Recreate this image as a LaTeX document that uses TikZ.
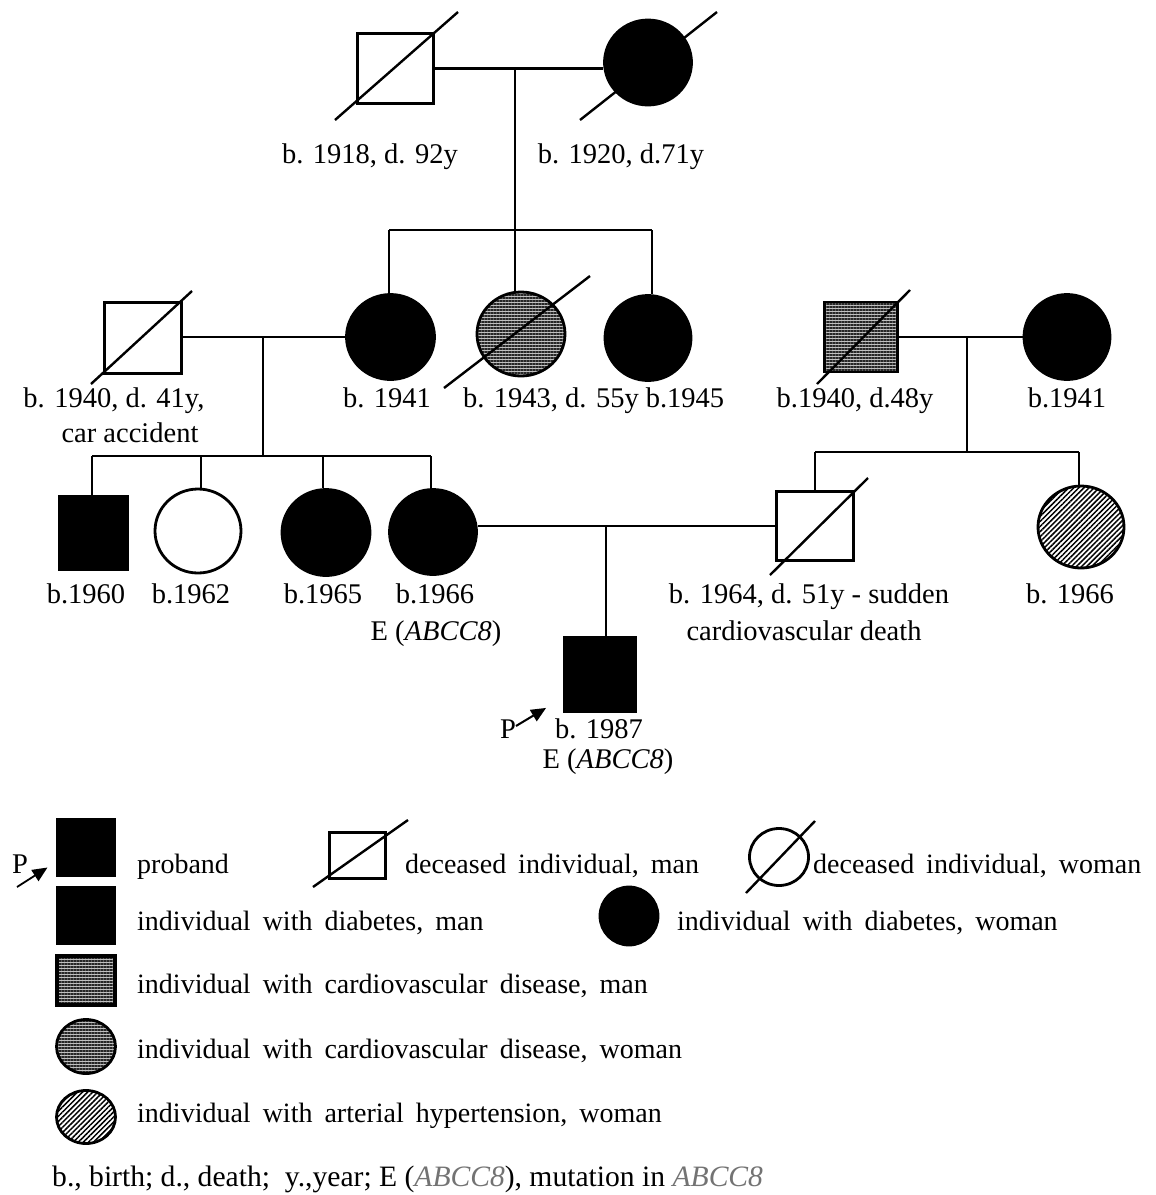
\documentclass[tikz,border=0pt]{standalone}
\usepackage{fontspec}
\setmainfont{Liberation Serif}
\usetikzlibrary{shapes.geometric,patterns.meta,arrows.meta,calc}
\newcommand\pedfont{\fontsize{28.5}{32}\selectfont}
\newcommand\legfont{\fontsize{28}{32}\selectfont\spaceskip=12pt plus 2pt minus 1pt\relax}
\newcommand\footfont{\fontsize{29.6}{32}\selectfont}
\begin{document}
\begin{tikzpicture}[x=1pt,y=-1pt,
  indiv/.style={draw, line width=2.8pt, inner sep=0pt},
  male/.style={indiv, rectangle},
  female/.style={indiv, ellipse},
  aff/.style={fill=black},
  cvd/.style={preaction={fill=gray!50}, pattern={Lines[angle=0,distance=3pt,line width=1.2pt]}, pattern color=gray!30!black},
  hyp/.style={fill=white, postaction={pattern={Lines[angle=45,distance=3.6pt,line width=1.5pt]}, pattern color=black}},
  link/.style={line width=2.8pt},
  decl/.style={line width=2.4pt},
  lab/.style={font=\pedfont, inner sep=0pt, anchor=base},
  leg/.style={font=\legfont, inner sep=0pt, anchor=base west},
  parrow/.style={line width=2pt, -{Triangle[length=15pt,width=13pt]}}
]
\fill[white] (0,0) rectangle (1156,1195);
\useasboundingbox (0,0) rectangle (1156,1195);

% ---------- Generation I
\node[male, minimum width=76pt, minimum height=70pt] (g1m) at (395.5,68.5) {};
\node[female, aff, minimum width=87pt, minimum height=85pt] (g1f) at (648,62.5) {};
\draw[decl] ($(g1m.center)+(-60.5,51.5)$) -- ($(g1m.center)+(62.5,-56.5)$);
\draw[decl] ($(g1f.center)+(-68,57.5)$) -- ($(g1f.center)+(69,-50.5)$);
\node[lab] (t1m) at (370,163) {b. 1918, d. 92y};
\node[lab] (t1f) at (621,163) {b. 1920, d.71y};

% ---------- Generation II
\node[male, minimum width=77pt, minimum height=71pt] (g2a) at (143,338) {};
\node[female, aff, minimum width=88pt, minimum height=85pt] (g2b) at (390.5,337) {};
\node[female, cvd, minimum width=88pt, minimum height=84pt] (g2c) at (521,334) {};
\node[female, aff, minimum width=86pt, minimum height=85pt] (g2d) at (648,338) {};
\node[male, cvd, minimum width=73pt, minimum height=70pt] (g2e) at (861,337) {};
\node[female, aff, minimum width=86pt, minimum height=85pt] (g2f) at (1067,337) {};
\draw[decl] ($(g2a.center)+(-52,46)$) -- ($(g2a.center)+(49,-47)$);
\draw[decl] ($(g2c.center)+(-77,54)$) -- ($(g2c.center)+(69,-58)$);
\draw[decl] ($(g2e.center)+(-44,47)$) -- ($(g2e.center)+(49,-47)$);
\node[lab] (t2a) at (114,407) {b. 1940, d. 41y,};
\node[lab] (t2a2) at (130,442) {car accident};
\node[lab] (t2b) at (387,407) {b. 1941};
\node[lab] (t2c) at (551,407) {b. 1943, d. 55y};
\node[lab] (t2d) at (685,407) {b.1945};
\node[lab] (t2e) at (855,407) {b.1940, d.48y};
\node[lab] (t2f) at (1067,407) {b.1941};

% ---------- Generation III
\node[male, aff, minimum width=68pt, minimum height=74pt] (g3a) at (93.5,533) {};
\node[female, fill=white, minimum width=86pt, minimum height=84pt] (g3b) at (198,531) {};
\node[female, aff, minimum width=88pt, minimum height=86pt] (g3c) at (326,532.5) {};
\node[female, aff, minimum width=87pt, minimum height=85pt] (g3d) at (433,532) {};
\node[male, fill=white, minimum width=77pt, minimum height=69pt] (g3e) at (815,526) {};
\node[female, hyp, minimum width=86pt, minimum height=82pt] (g3f) at (1081,527) {};
\draw[decl] ($(g3e.center)+(-45,49)$) -- ($(g3e.center)+(53,-48)$);
\node[lab] (t3a) at (86,603) {b.1960};
\node[lab] (t3b) at (191,603) {b.1962};
\node[lab] (t3c) at (323,603) {b.1965};
\node[lab] (t3d) at (435,603) {b.1966};
\node[lab] (t3d2) at (436,640) {E (\textit{ABCC8})};
\node[lab] (t3e) at (809,603) {b. 1964, d. 51y - sudden};
\node[lab] (t3e2) at (804,640) {cardiovascular death};
\node[lab] (t3f) at (1070,603) {b. 1966};

% ---------- Generation IV
\node[male, aff, minimum width=71pt, minimum height=74pt] (g4) at (600,674.5) {};
\node[lab] (tp) at (508,738) {P};
\node[lab] (t4) at (599,738) {b. 1987};
\node[lab] (t42) at (608,768) {E (\textit{ABCC8})};
\coordinate (pa) at (516,726);
\draw[parrow] (pa) -- ($(g4.south west)+(-17,-5)$);

% ---------- connectors
\coordinate (c1) at (515,68.5);
\coordinate (s1) at (515,230);
\coordinate (s1l) at (389,230);
\coordinate (s1r) at (652,230);
\draw[link] (g1m.east) -- (g1m.east -| g1f.west);
\draw[link] (c1) -- (s1);
\draw[link] (s1l) -- (s1r);
\draw[link] (s1l) -- (s1l |- g2b.north);
\draw[link] (s1) -- (s1 |- g2c.north);
\draw[link] (s1r) -- (s1r |- g2d.north);

\coordinate (c2) at (263,337);
\coordinate (s2) at (263,456);
\coordinate (s2l) at (92,456);
\coordinate (v3b) at (201,456);
\coordinate (v3c) at (323,456);
\coordinate (s2r) at (431,456);
\draw[link] (g2a.east |- g2b.west) -- (g2b.west);
\draw[link] (c2) -- (s2);
\draw[link] (s2l) -- (s2r);
\draw[link] (s2l) -- (s2l |- g3a.north);
\draw[link] (v3b) -- (v3b |- g3b.north);
\draw[link] (v3c) -- (v3c |- g3c.north);
\draw[link] (s2r) -- (s2r |- g3d.north);

\coordinate (c3) at (967,337);
\coordinate (s3) at (967,452);
\coordinate (s3l) at (815,452);
\coordinate (s3r) at (1079,452);
\draw[link] (g2e.east) -- (g2e.east -| g2f.west);
\draw[link] (c3) -- (s3);
\draw[link] (s3l) -- (s3r);
\draw[link] (s3l) -- (s3l |- g3e.north);
\draw[link] (s3r) -- (s3r |- g3f.north);

\coordinate (c4) at (606,526);
\draw[link] (g3d.east |- g3e.west) -- (g3e.west);
\draw[link] (c4) -- (c4 |- g4.north);

% ---------- Legend
\node[male, aff, line width=1pt, minimum width=59pt, minimum height=58pt] (lp) at (85.5,847) {};
\node[lab] (lpP) at (20,873) {P};
\coordinate (lpa) at (17,887);
\draw[parrow, line width=1.8pt] (lpa) -- ($(lp.south west)+(-8,-9)$);
\node[leg] (lpt) at (137,873) {proband};

\node[male, minimum width=56pt, minimum height=46pt] (ldm) at (357.5,855.5) {};
\draw[decl] ($(ldm.center)+(-44.5,31.5)$) -- ($(ldm.center)+(50.5,-35.5)$);
\node[leg] (ldmt) at (405,873) {deceased individual, man};

\node[female, minimum width=59pt, minimum height=57pt] (ldf) at (779,857) {};
\draw[decl] ($(ldf.center)+(-33,36)$) -- ($(ldf.center)+(36,-36)$);
\node[leg] (ldft) at (813,873) {deceased individual, woman};

\node[male, aff, line width=1pt, minimum width=59pt, minimum height=58pt] (lam) at (85.5,915) {};
\node[leg] (lamt) at (137,930) {individual with diabetes, man};
\node[female, aff, minimum width=58pt, minimum height=58pt] (laf) at (629,916) {};
\node[leg] (laft) at (677,930) {individual with diabetes, woman};

\node[male, cvd, line width=3.5pt, minimum width=58pt, minimum height=49pt] (lcm) at (86,980.5) {};
\node[leg] (lcmt) at (137,993) {individual with cardiovascular disease, man};
\node[female, cvd, minimum width=59pt, minimum height=54pt] (lcf) at (86,1046.5) {};
\node[leg] (lcft) at (137,1058) {individual with cardiovascular disease, woman};
\node[female, hyp, minimum width=59pt, minimum height=53pt] (lhf) at (86,1117) {};
\node[leg] (lhft) at (137,1122) {individual with arterial hypertension, woman};

\node[font=\footfont, inner sep=0pt, anchor=base west] (foot) at (52,1186)
  {b., birth; d., death;~ y.,year; E (\textit{\color{black!55}ABCC8}), mutation in \textit{\color{black!55}ABCC8}};
\end{tikzpicture}
\end{document}
